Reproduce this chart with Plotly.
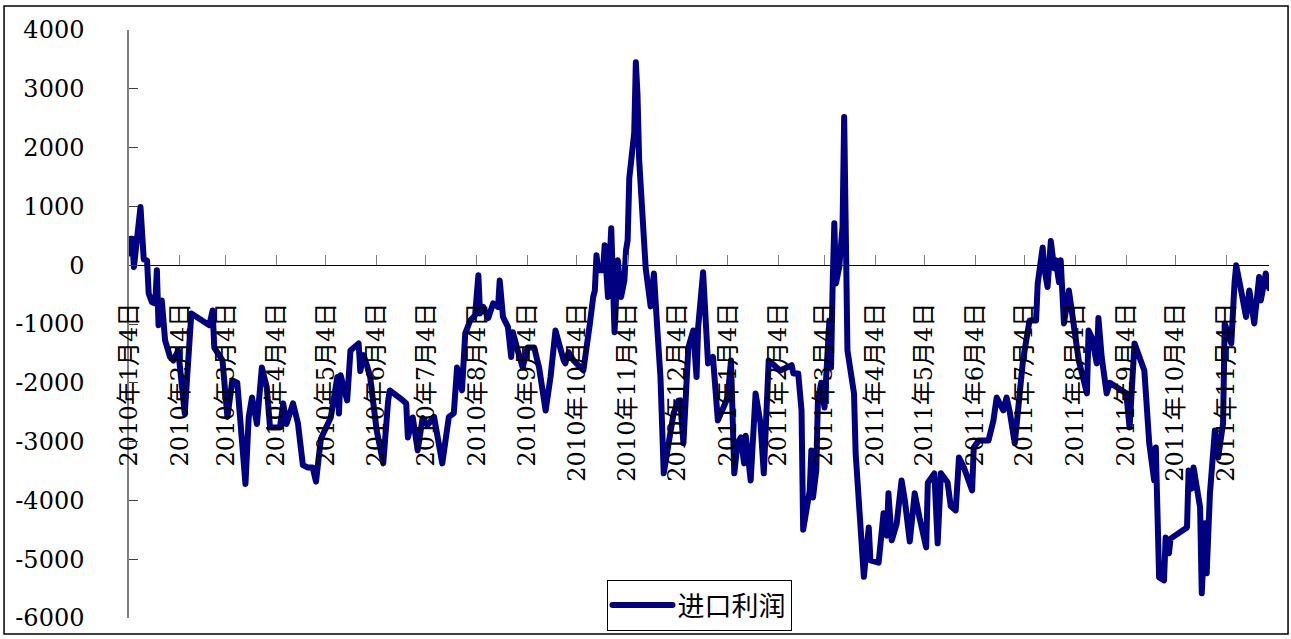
import plotly.graph_objects as go

# 进口利润 daily series (元/吨)
dates = [
    "2010-01-04", "2010-01-05", "2010-01-06", "2010-01-07", "2010-01-11", "2010-01-13", "2010-01-15", "2010-01-16",
    "2010-01-18", "2010-01-20", "2010-01-21", "2010-01-22", "2010-01-24", "2010-01-26", "2010-01-29", "2010-01-31",
    "2010-02-03", "2010-02-07", "2010-02-11", "2010-02-22", "2010-02-24", "2010-02-25", "2010-03-02", "2010-03-05",
    "2010-03-08", "2010-03-11", "2010-03-16", "2010-03-18", "2010-03-20", "2010-03-23", "2010-03-26", "2010-03-29",
    "2010-03-31", "2010-04-06", "2010-04-08", "2010-04-10", "2010-04-14", "2010-04-17", "2010-04-20", "2010-04-23",
    "2010-04-26", "2010-04-28", "2010-05-01", "2010-05-07", "2010-05-11", "2010-05-12", "2010-05-13", "2010-05-17",
    "2010-05-19", "2010-05-21", "2010-05-24", "2010-05-25", "2010-05-27", "2010-05-29", "2010-05-31", "2010-06-04",
    "2010-06-08", "2010-06-11", "2010-06-12", "2010-06-20", "2010-06-22", "2010-06-23", "2010-06-26", "2010-06-29",
    "2010-07-02", "2010-07-05", "2010-07-09", "2010-07-14", "2010-07-18", "2010-07-21", "2010-07-23", "2010-07-25",
    "2010-07-26", "2010-07-28", "2010-07-31", "2010-08-03", "2010-08-05", "2010-08-06", "2010-08-08", "2010-08-11",
    "2010-08-14", "2010-08-17", "2010-08-18", "2010-08-20", "2010-08-23", "2010-08-25", "2010-08-26", "2010-08-29",
    "2010-09-01", "2010-09-04", "2010-09-08", "2010-09-11", "2010-09-15", "2010-09-18", "2010-09-21", "2010-09-26",
    "2010-09-27", "2010-09-29", "2010-10-02", "2010-10-08", "2010-10-11", "2010-10-12", "2010-10-14", "2010-10-15",
    "2010-10-16", "2010-10-17", "2010-10-20", "2010-10-21", "2010-10-23", "2010-10-25", "2010-10-27", "2010-10-29",
    "2010-10-31", "2010-11-02", "2010-11-03", "2010-11-04", "2010-11-05", "2010-11-08", "2010-11-09", "2010-11-10",
    "2010-11-11", "2010-11-13", "2010-11-14", "2010-11-15", "2010-11-18", "2010-11-20", "2010-11-22", "2010-11-24",
    "2010-11-26", "2010-11-28", "2010-12-02", "2010-12-05", "2010-12-06", "2010-12-08", "2010-12-11", "2010-12-14",
    "2010-12-16", "2010-12-17", "2010-12-20", "2010-12-23", "2010-12-26", "2010-12-29", "2011-01-04", "2011-01-06",
    "2011-01-08", "2011-01-10", "2011-01-12", "2011-01-14", "2011-01-15", "2011-01-18", "2011-01-21", "2011-01-24",
    "2011-01-26", "2011-01-29", "2011-02-05", "2011-02-12", "2011-02-13", "2011-02-16", "2011-02-18", "2011-02-19",
    "2011-02-23", "2011-02-24", "2011-02-25", "2011-02-27", "2011-02-28", "2011-03-02", "2011-03-04", "2011-03-07",
    "2011-03-08", "2011-03-09", "2011-03-10", "2011-03-11", "2011-03-13", "2011-03-15", "2011-03-16", "2011-03-18",
    "2011-03-22", "2011-03-23", "2011-03-25", "2011-03-26", "2011-03-28", "2011-03-31", "2011-04-01", "2011-04-06",
    "2011-04-09", "2011-04-11", "2011-04-12", "2011-04-14", "2011-04-17", "2011-04-20", "2011-04-22", "2011-04-25",
    "2011-04-28", "2011-05-01", "2011-05-05", "2011-05-06", "2011-05-10", "2011-05-12", "2011-05-14", "2011-05-18",
    "2011-05-20", "2011-05-23", "2011-05-25", "2011-05-28", "2011-05-31", "2011-06-02", "2011-06-03", "2011-06-06",
    "2011-06-12", "2011-06-15", "2011-06-17", "2011-06-21", "2011-06-23", "2011-06-25", "2011-06-28", "2011-06-30",
    "2011-07-03", "2011-07-07", "2011-07-11", "2011-07-12", "2011-07-14", "2011-07-15", "2011-07-16", "2011-07-18",
    "2011-07-20", "2011-07-22", "2011-07-23", "2011-07-25", "2011-07-26", "2011-07-28", "2011-07-31", "2011-08-03",
    "2011-08-06", "2011-08-11", "2011-08-12", "2011-08-14", "2011-08-17", "2011-08-18", "2011-08-20", "2011-08-23",
    "2011-08-25", "2011-09-04", "2011-09-06", "2011-09-09", "2011-09-15", "2011-09-18", "2011-09-21", "2011-09-22",
    "2011-09-24", "2011-09-27", "2011-09-28", "2011-09-30", "2011-10-01", "2011-10-11", "2011-10-12", "2011-10-14",
    "2011-10-15", "2011-10-19", "2011-10-20", "2011-10-22", "2011-10-23", "2011-10-25", "2011-10-28", "2011-10-30",
    "2011-11-02", "2011-11-03", "2011-11-07", "2011-11-09", "2011-11-10", "2011-11-13", "2011-11-16", "2011-11-18",
    "2011-11-21", "2011-11-24", "2011-11-25", "2011-11-28", "2011-11-30",
]

profit = [
    200, 450, 450, -30, 990, 100, 80, -480,
    -630, -650, -85, -1020, -600, -1280, -1560, -1620,
    -1450, -2520, -820, -1020, -770, -1400, -1620, -2580,
    -1960, -2000, -3720, -2580, -2250, -2700, -1740, -2080,
    -2760, -2760, -2350, -2700, -2350, -2690, -3400, -3440,
    -3440, -3680, -2950, -2590, -1900, -2520, -1870, -2300,
    -1450, -1400, -1330, -1800, -1530, -1700, -1900, -2810,
    -3370, -2300, -2130, -2300, -2350, -2930, -2590, -3150,
    -2600, -2720, -2580, -3370, -2580, -2520, -1740, -2000,
    -2130, -1160, -940, -850, -170, -820, -710, -900,
    -650, -710, -260, -880, -1050, -1560, -1140, -1450,
    -1740, -1400, -1400, -1740, -2470, -1900, -1110, -1620,
    -1670, -1480, -1620, -1790, -1050, -990, -540, -430,
    170, -85, -85, 340, -540, 630, -1140, 85,
    -540, -260, 255, 425, 1480, 2250, 3450, 2900,
    1800, 1000, 400, -50, -700, -140, -1050, -1900,
    -3540, -3150, -2520, -2300, -2300, -3030, -1400, -1110,
    -1900, -1050, -120, -1670, -1560, -2640, -2250, -1620,
    -3540, -3030, -2930, -3370, -2900, -3660, -2180, -2690,
    -3540, -1620, -1790, -1700, -1840, -1840, -2470, -4500,
    -3830, -3150, -3950, -3490, -2300, -2000, -2420, -940,
    -1740, -310, 715, -310, -30, 650, 2520, -1450,
    -2180, -3200, -4220, -4290, -5300, -4460, -5020, -5060,
    -4220, -4600, -3880, -4680, -4400, -3660, -4000, -4700,
    -3880, -4300, -4800, -3700, -3540, -4730, -3540, -3690,
    -4100, -4170, -3270, -3440, -3660, -3830, -3100, -2980,
    -2980, -2640, -2250, -2470, -2250, -2500, -3030, -2520,
    -1620, -940, -940, -310, 255, 300, -50, -370,
    410, -50, 85, -290, 85, -990, -430, -1000,
    -1620, -2180, -1110, -1230, -1670, -900, -1560, -2180,
    -2000, -2180, -2760, -1330, -1790, -3030, -3660, -3100,
    -5310, -5360, -4630, -4900, -4650, -4460, -3490, -3800,
    -3440, -4120, -5580, -4390, -5240, -3880, -2810, -3270,
    -2690, -990, -1330, -300, 0, -430, -880, -430,
    -990, -200, -600, -140, -390,
]

# Monthly category labels along the date axis
tick_dates = [
    "2010-01-04", "2010-02-04", "2010-03-04", "2010-04-04", "2010-05-04", "2010-06-04",
    "2010-07-04", "2010-08-04", "2010-09-04", "2010-10-04", "2010-11-04", "2010-12-04",
    "2011-01-04", "2011-02-04", "2011-03-04", "2011-04-04", "2011-05-04", "2011-06-04",
    "2011-07-04", "2011-08-04", "2011-09-04", "2011-10-04", "2011-11-04",
]
tick_labels = [
    "2010年1月4日", "2010年2月4日", "2010年3月4日", "2010年4月4日", "2010年5月4日", "2010年6月4日",
    "2010年7月4日", "2010年8月4日", "2010年9月4日", "2010年10月4日", "2010年11月4日", "2010年12月4日",
    "2011年1月4日", "2011年2月4日", "2011年3月4日", "2011年4月4日", "2011年5月4日", "2011年6月4日",
    "2011年7月4日", "2011年8月4日", "2011年9月4日", "2011年10月4日", "2011年11月4日",
]

y_ticks = [4000, 3000, 2000, 1000, 0, -1000, -2000, -3000, -4000, -5000, -6000]
y_labels = ["4000", "3000", "2000", "1000", "0", "-1000", "-2000", "-3000", "-4000", "-5000", "-6000"]

Y_MIN, Y_MAX = -6000, 4000
SERIF = "DejaVu Serif, Liberation Serif, Noto Sans CJK SC, serif"

fig = go.Figure()
fig.add_trace(go.Scatter(
    x=dates, y=profit, mode="lines", name="进口利润",
    line=dict(color="#000080", width=6),
))

# the date axis crosses the value axis at zero
zero_pos = (0 - Y_MIN) / (Y_MAX - Y_MIN)

fig.update_layout(
    width=1291, height=639,
    margin=dict(l=129, r=22, t=30, b=21, autoexpand=False),
    paper_bgcolor="white", plot_bgcolor="white",
    showlegend=True,
    legend=dict(
        x=0.5, xanchor="center", y=-0.022, yanchor="bottom",
        bgcolor="white", bordercolor="black", borderwidth=1,
        itemwidth=60,
        font=dict(family="Noto Sans CJK SC", size=27, color="black"),
    ),
    xaxis=dict(
        type="date", range=[dates[0], dates[-1]],
        anchor="free", position=zero_pos,
        showgrid=False, zeroline=False,
        showline=True, linecolor="black", linewidth=1,
        ticks="inside", ticklen=10, tickcolor="#7f7f7f", tickwidth=1,
        tickvals=tick_dates, ticktext=tick_labels, tickangle=-90,
        ticklabelstandoff=27,
        tickfont=dict(family=SERIF, size=24, color="black"),
        automargin=False,
    ),
    yaxis=dict(
        range=[Y_MIN, Y_MAX],
        showgrid=False, zeroline=False,
        showline=True, linecolor="#7f7f7f", linewidth=1.5,
        ticks="inside", ticklen=9, tickcolor="#404040", tickwidth=1,
        tickvals=y_ticks, ticktext=y_labels,
        ticklabelstandoff=38,
        tickfont=dict(family=SERIF, size=24, color="black"),
        automargin=False,
    ),
    shapes=[dict(
        type="rect", xref="paper", yref="paper",
        x0=-0.1096, x1=1.0167, y0=-0.0272, y1=1.0408,
        line=dict(color="black", width=1.5), fillcolor="rgba(0,0,0,0)", layer="below",
    )],
)

round_joins = (
    "var s=document.createElement('style');"
    "s.textContent='.js-line{stroke-linejoin:round;stroke-linecap:round;}';"
    "document.head.appendChild(s);"
)

fig.write_html("out.html", post_script=round_joins)
